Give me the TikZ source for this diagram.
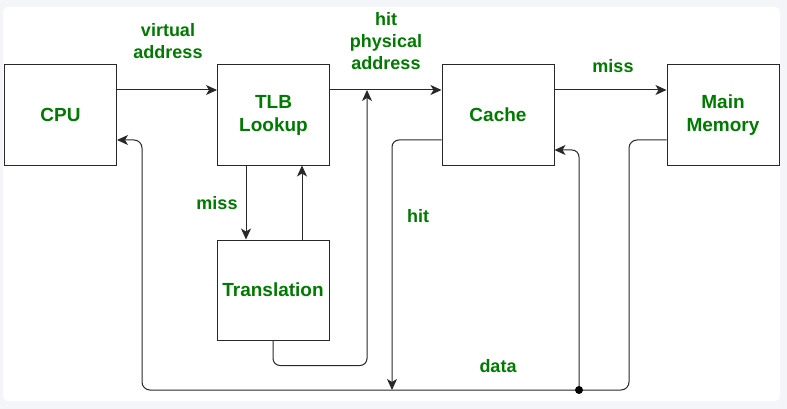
\documentclass[tikz,border=0pt]{standalone}
\usepackage{fontspec}
\setmainfont{Liberation Sans}
\usetikzlibrary{arrows.meta,calc}
\definecolor{lblgreen}{RGB}{0,122,0}
\definecolor{linegray}{RGB}{40,40,40}
\definecolor{pagegray}{RGB}{244,245,248}
\tikzset{
  blk/.style={draw=linegray, line width=1pt, fill=white, minimum width=112pt, minimum height=100pt, inner sep=0pt,
    text=lblgreen, font=\fontsize{19}{23}\selectfont\bfseries, align=center},
  lbl/.style={text=lblgreen, font=\fontsize{18}{22}\selectfont\bfseries, align=center, inner sep=0pt},
  conn/.style={draw=linegray, line width=1pt},
  arr/.style={conn, -{Stealth[length=11pt,width=10pt,inset=3pt]}}
}
\begin{document}
\begin{tikzpicture}[x=1pt,y=-1pt]
\useasboundingbox (0,0) rectangle (787,409);
\fill[pagegray] (0,0) rectangle (787,409);
\fill[white, rounded corners=5pt] (3,7) rectangle (780,401);

\node[blk] (cpu) at (60.5,115) {CPU};
\node[blk] (tlb) at (273.5,115) {TLB\\Lookup};
\node[blk] (cache) at (498,115) {Cache};
\node[blk] (mm) at (723,115) {Main\\Memory};
\node[blk] (tr) at (273,290) {Translation};

\coordinate (j1) at (367,90);
\coordinate (hitend) at (392,390);
\coordinate (c1) at (629,390);
\coordinate (c2) at (142,390);
\coordinate (dot) at (579,390);

% main flow
\draw[arr] ([yshift=25pt]cpu.east) -- ([yshift=25pt]tlb.west);
\draw[arr] ([yshift=25pt]tlb.east) -- ([yshift=25pt]cache.west);
\draw[arr] ([yshift=25pt]cache.east) -- ([yshift=25pt]mm.west);

% TLB <-> Translation
\draw[arr] ([xshift=-27.5pt]tlb.south) -- ([xshift=-27pt]tr.north);
\draw[arr] ([xshift=29pt]tr.north) -- ([xshift=28.5pt]tlb.south);
\draw[arr, rounded corners=7pt] (tr.south) -- ++(0,25) -| (j1);

% cache hit
\draw[arr, rounded corners=7pt] ([yshift=-25pt]cache.west) -| (hitend);

% data return
\draw[arr, rounded corners=8pt] ([yshift=-25pt]mm.west) -| (c1) -- (c2) |- ([yshift=-25pt]cpu.east);
\draw[arr, rounded corners=7pt] (dot) |- ([yshift=-35pt]cache.east);
\fill[black] (dot) circle (4pt);

% labels
\node[lbl] (l1) at (168,41) {virtual\\address};
\node[lbl] (l2) at (386,41) {hit\\physical\\address};
\node[lbl] (l3) at (613,66) {miss};
\node[lbl] (l4) at (217,203) {miss};
\node[lbl] (l5) at (418,216) {hit};
\node[lbl] (l6) at (498,366) {data};
\end{tikzpicture}
\end{document}
